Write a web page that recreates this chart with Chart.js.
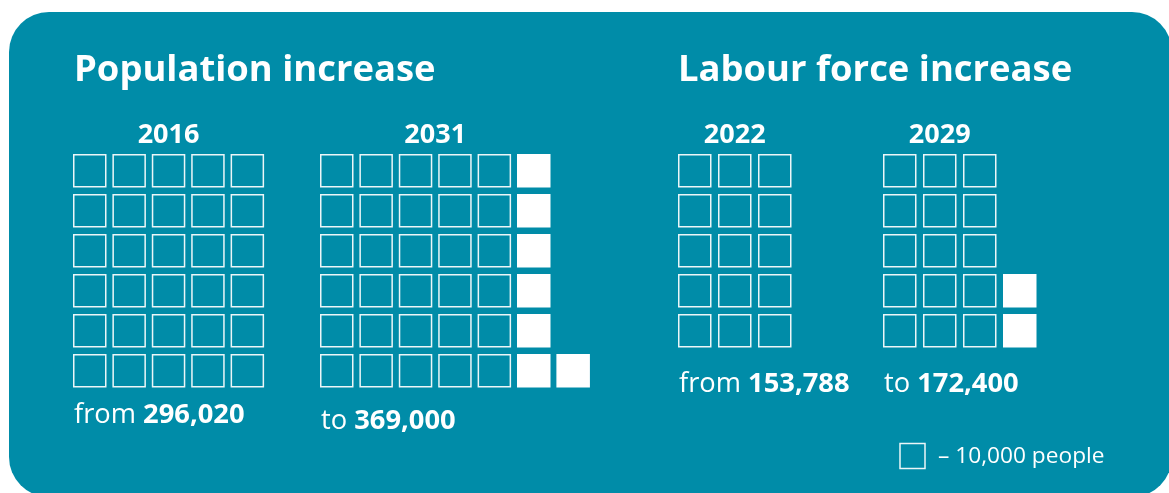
<!DOCTYPE html>
<html>
<head>
<meta charset="utf-8">
<title>Population and labour force increase</title>
<script src="https://cdn.jsdelivr.net/npm/chart.js@4.4.1/dist/chart.umd.min.js"></script>
<style>
  html, body { margin: 0; padding: 0; background: #fff; }
  #wrap { width: 1169px; height: 493px; }
</style>
</head>
<body>
<div id="wrap"><canvas id="chart" width="1169" height="493"></canvas></div>
<script>
// one square stands for 10,000 people
const UNIT = 10000;
const panelTitles = ['Population increase', 'Labour force increase'];
const years = ['2016', '2031', '2022', '2029'];
const yearPanel = [0, 0, 1, 1];
const prefixes = ['from', 'to', 'from', 'to'];
const values = [296020, 369000, 153788, 172400];
const rowsPerGroup = [6, 6, 5, 5];
const legendText = '\u2013 10,000 people';

// page layout (pixels), kept apart from the data
const layout = {
    groupX: [73, 320, 678, 883],
    gridTop: 154,
    colStep: [39.4, 39.4, 40, 40],
    rowStep: 40,
    box: 33.5,
    border: 1.5,
    labelY: [423, 429, 392, 392],
    titleX: [74, 678],
    titleY: 81
};

const TEAL = '#008ca8';
const LINE = 'rgba(255,255,255,0.92)';
const FONT = "'Open Sans', 'Noto Sans', sans-serif";

// squares from the values: 'to' groups keep the 'from' squares and add the rest
function squareCounts(g) {
    const total = Math.round(values[g] / UNIT);
    const base = prefixes[g] === 'to' ? Math.round(values[g - 1] / UNIT) : total;
    return { base, added: total - base };
}

const outlined = [];
const filled = [];
const topRow = [];   // x centre of the first row, for centring the year

years.forEach((yr, g) => {
    const { base, added } = squareCounts(g);
    const rows = rowsPerGroup[g];
    const cols = Math.ceil(base / rows);
    const half = layout.box / 2;
    const cx = c => layout.groupX[g] + half + c * layout.colStep[g];
    const cy = r => layout.gridTop + half + r * layout.rowStep;
    let minX = Infinity, maxX = -Infinity;

    for (let i = 0; i < base; i++) {
        const c = i % cols, r = Math.floor(i / cols);
        outlined.push({ x: cx(c), y: cy(r) });
        if (r === 0) { minX = Math.min(minX, cx(c)); maxX = Math.max(maxX, cx(c)); }
    }
    // extra squares stack from the bottom up, column after column
    for (let j = 0; j < added; j++) {
        const c = cols + Math.floor(j / rows), r = rows - 1 - (j % rows);
        filled.push({ x: cx(c), y: cy(r) });
        if (r === 0) { minX = Math.min(minX, cx(c)); maxX = Math.max(maxX, cx(c)); }
    }
    topRow.push((minX + maxX) / 2);
});

const pointR = (layout.box - layout.border) / Math.SQRT2;

const panelBackground = {
    id: 'panelBackground',
    beforeDraw(chart) {
        const ctx = chart.ctx;
        ctx.save();
        ctx.fillStyle = TEAL;
        ctx.beginPath();
        ctx.roundRect(9, 12, 1163, 485, 40);
        ctx.fill();
        ctx.restore();
    }
};

const textLayer = {
    id: 'textLayer',
    afterDatasetsDraw(chart) {
        const { ctx, scales: { x, y } } = chart;
        ctx.save();
        ctx.fillStyle = '#fff';
        ctx.textBaseline = 'alphabetic';

        ctx.font = `bold 36.4px ${FONT}`;
        ctx.textAlign = 'left';
        panelTitles.forEach((t, p) => {
            ctx.fillText(t, x.getPixelForValue(layout.titleX[p]), y.getPixelForValue(layout.titleY));
        });

        ctx.font = `bold 27px ${FONT}`;
        ctx.textAlign = 'center';
        years.forEach((yr, g) => {
            ctx.fillText(yr, x.getPixelForValue(topRow[g]), y.getPixelForValue(layout.gridTop - 11));
        });

        ctx.textAlign = 'left';
        years.forEach((yr, g) => {
            const px = x.getPixelForValue(layout.groupX[g] + 1);
            const py = y.getPixelForValue(layout.labelY[g]);
            ctx.font = `27.3px ${FONT}`;
            const pre = prefixes[g] + ' ';
            ctx.fillText(pre, px, py);
            const w = ctx.measureText(pre).width;
            ctx.font = `bold 27.3px ${FONT}`;
            ctx.fillText(values[g].toLocaleString('en-US'), px + w, py);
        });

        // legend: one outlined square = 10,000 people
        ctx.strokeStyle = LINE;
        ctx.lineWidth = 1.5;
        ctx.strokeRect(x.getPixelForValue(900), y.getPixelForValue(443.5), 25, 25);
        ctx.font = `22.7px ${FONT}`;
        ctx.fillText(legendText, x.getPixelForValue(938), y.getPixelForValue(463));
        ctx.restore();
    }
};

new Chart(document.getElementById('chart'), {
    type: 'scatter',
    data: {
        datasets: [
            {
                label: 'Base',
                data: outlined,
                pointStyle: 'rect',
                pointRadius: pointR,
                pointBorderWidth: layout.border,
                borderColor: LINE,
                backgroundColor: 'rgba(0,0,0,0)'
            },
            {
                label: 'Increase',
                data: filled,
                pointStyle: 'rect',
                pointRadius: pointR,
                pointBorderWidth: layout.border,
                borderColor: '#fff',
                backgroundColor: '#fff'
            }
        ]
    },
    options: {
        responsive: false,
        animation: false,
        events: [],
        layout: { padding: 0, autoPadding: false },
        plugins: {
            legend: { display: false },
            tooltip: { enabled: false }
        },
        scales: {
            x: { type: 'linear', min: 0, max: 1169, display: false },
            y: { type: 'linear', min: 0, max: 493, reverse: true, display: false }
        }
    },
    plugins: [panelBackground, textLayer]
});
</script>
</body>
</html>
